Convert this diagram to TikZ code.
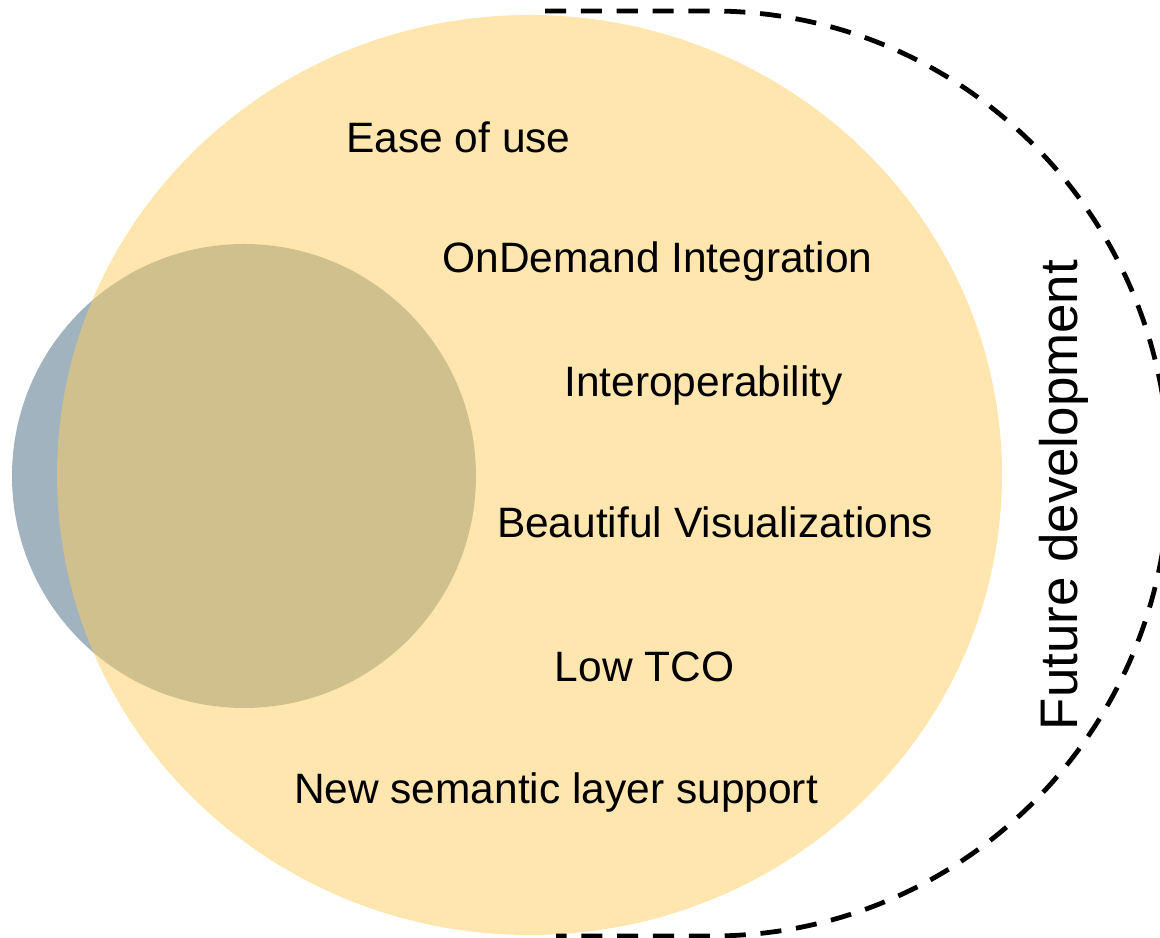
\documentclass[tikz,border=0pt]{standalone}
\usepackage{fontspec}
\setmainfont{Liberation Sans}
\definecolor{venyellow}{RGB}{255,205,95}
\definecolor{venblue}{RGB}{160,179,190}
\tikzset{
  lbl/.style={anchor=base, inner sep=0pt, font=\fontsize{30.2}{36}\selectfont, text=black},
  sidelbl/.style={anchor=base, inner sep=0pt, rotate=90, font=\fontsize{37.6}{45}\selectfont, text=black},
  futureline/.style={draw=black, line width=3.4pt, dash pattern=on 15pt off 10.5pt},
}
\begin{document}
\begin{tikzpicture}[x=0.025cm, y=0.025cm]
  \useasboundingbox (0,0) rectangle (1160,938);
  \clip (0,0) rectangle (1160,938);
  % circles
  \fill[venblue] (244,462) circle[radius=232];
  \fill[venyellow, fill opacity=0.5] (529.5,463) ellipse[x radius=472.5, y radius=460];
  % dashed D-shape
  \draw[futureline] (545,927) -- (712,927)
     arc[start angle=90, end angle=-90, x radius=457, y radius=462.5] -- (556,2);
  % labels
  \node[lbl] (ease) at (458.5,785) {Ease of use};
  \node[lbl] (ondemand) at (657.5,665) {OnDemand Integration};
  \node[lbl] (interop) at (703.5,541) {Interoperability};
  \node[lbl] (beautiful) at (715,400) {Beautiful Visualizations};
  \node[lbl] (lowtco) at (644.5,256) {Low TCO};
  \node[lbl] (semantic) at (556,134) {New semantic layer support};
  \node[sidelbl] (future) at (1077,443) {Future development};
\end{tikzpicture}
\end{document}
